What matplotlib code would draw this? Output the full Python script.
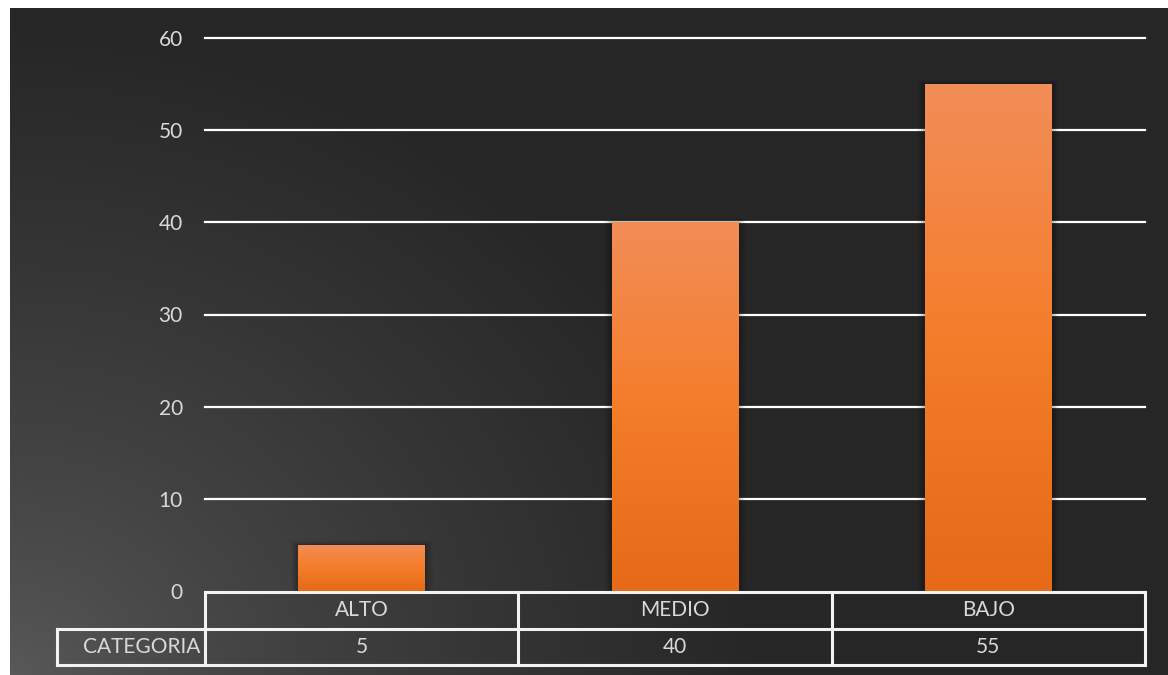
import numpy as np
import matplotlib
matplotlib.use("Agg")
import matplotlib.pyplot as plt
from matplotlib.colors import LinearSegmentedColormap
from matplotlib.patches import Rectangle

categories = ["ALTO", "MEDIO", "BAJO"]
values = [5, 40, 55]
row_label = "CATEGORIA"
yticks = [0, 10, 20, 30, 40, 50, 60]

W, H = 1168, 675
fig = plt.figure(figsize=(W / 100, H / 100), dpi=100)
fig.patch.set_facecolor("white")
plt.rcParams['font.family'] = ['Lato', 'DejaVu Sans']
plt.rcParams['font.stretch'] = 'normal'
FS = 15
TC = "#d9d9d9"

def fx(px):
    return px / W

def fy(py):
    return 1 - py / H

# background with radial gradient from bottom-left
bg = fig.add_axes([fx(10), 0, 1 - fx(10), fy(8)])
bg.set_axis_off()
bw, bh = W - 10, H - 8
xx, yy = np.meshgrid(np.arange(bw), np.arange(bh))
d = np.sqrt((xx * 1.0) ** 2 + ((bh - yy) * 1.15) ** 2)
t = np.clip(d / 760.0, 0, 1)
t = t ** 0.75
c0 = np.array([0x5a, 0x5a, 0x5a]) / 255
c1 = np.array([0x26, 0x26, 0x26]) / 255
img = c0[None, None, :] * (1 - t[..., None]) + c1[None, None, :] * t[..., None]
bg.imshow(img, extent=[0, bw, 0, bh], origin="upper", aspect="auto")
bg.set_xlim(0, bw)
bg.set_ylim(0, bh)

# main axes
left, right, top, bottom = 205, 1145, 38, 591
ax = fig.add_axes([fx(left), fy(bottom), fx(right - left), fy(top) - fy(bottom)])
ax.set_facecolor("none")
ax.set_xlim(-0.5, len(categories) - 0.5)
ax.set_ylim(0, 60)
for s in ax.spines.values():
    s.set_visible(False)
ax.set_xticks([])
ax.set_yticks(yticks)
ax.set_yticklabels([str(v) for v in yticks], color=TC, fontsize=FS)
ax.tick_params(axis="y", length=0, pad=16)
for v in yticks[1:]:
    ax.axhline(v, color="white", lw=1.6, zorder=1, clip_on=False)

x = np.arange(len(categories))
bars = ax.bar(x, values, width=0.405, color="none", zorder=3)
grad_cmap = LinearSegmentedColormap.from_list("og", ["#e66a17", "#f47d2a", "#f28d58"])
grad = np.linspace(0, 1, 256).reshape(-1, 1)
for b in bars:
    bx, by, bwid, bht = b.get_x(), b.get_y(), b.get_width(), b.get_height()
    # soft shadow
    for k, a in enumerate([0.10, 0.08, 0.06, 0.04]):
        e = 0.006 * (k + 1)
        ax.add_patch(Rectangle((bx - e, by), bwid + 2 * e, bht + e * 20,
                               color="black", alpha=a, lw=0, zorder=2))
    im = ax.imshow(grad, extent=[bx, bx + bwid, by, by + bht], origin="lower",
                   cmap=grad_cmap, aspect="auto", zorder=3)
    im.set_clip_path(b)

# data table below
tab = fig.add_axes([fx(left), fy(665), fx(right - left), fy(592) - fy(665)])
tab.set_facecolor("none")
tab.set_axis_off()
tab.set_xlim(-0.5, len(categories) - 0.5)
tab.set_ylim(0, 2)
unit = (right - left) / len(categories)
lab_left = -0.5 - (left - 57) / unit
lc, lw = "#f2f2f2", 2.2
n = len(categories)
tab.plot([-0.5, n - 0.5], [2, 2], color=lc, lw=lw, clip_on=False)
tab.plot([lab_left, n - 0.5], [1, 1], color=lc, lw=lw, clip_on=False)
tab.plot([lab_left, n - 0.5], [0, 0], color=lc, lw=lw, clip_on=False)
tab.plot([lab_left, lab_left], [0, 1], color=lc, lw=lw, clip_on=False)
for i in range(n + 1):
    tab.plot([i - 0.5, i - 0.5], [0, 2], color=lc, lw=lw, clip_on=False)
for i, (c, v) in enumerate(zip(categories, values)):
    tab.text(i, 1.5, c, ha="center", va="center", color=TC, fontsize=FS)
    tab.text(i, 0.5, str(v), ha="center", va="center", color=TC, fontsize=FS)
tab.text(-0.5 - 5 / unit, 0.5, row_label, ha="right", va="center", color=TC, fontsize=FS)

fig.savefig("out.png", dpi=100, facecolor=fig.get_facecolor())
